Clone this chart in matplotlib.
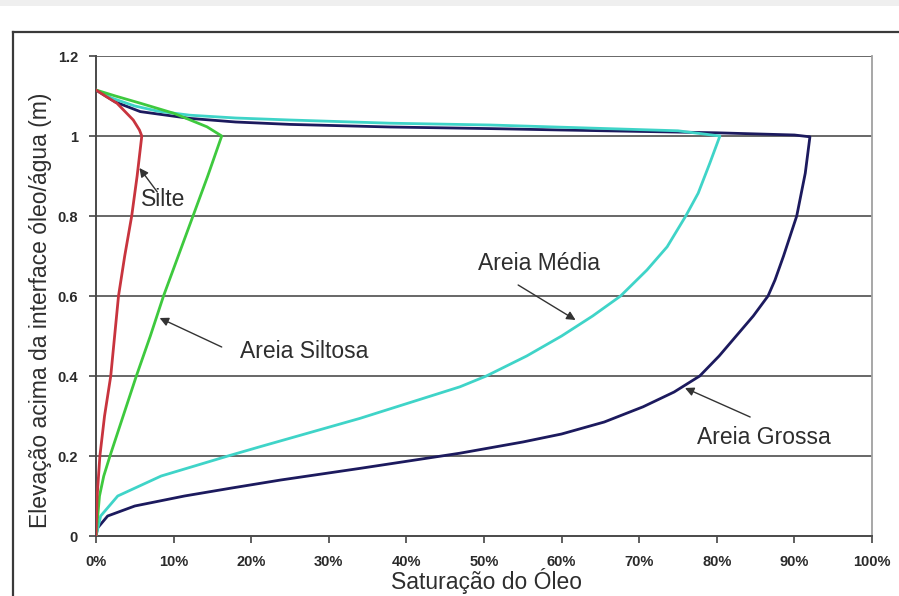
import matplotlib
matplotlib.use("Agg")
import matplotlib.pyplot as plt
from matplotlib.lines import Line2D
from matplotlib.patches import Rectangle
from matplotlib.ticker import FuncFormatter

plt.rcParams['font.family'] = ['Liberation Sans', 'DejaVu Sans']

# Oil saturation (%) vs elevation above the oil/water interface (m)
silte_sat = [0, 0.15, 0.5, 1.1, 1.9, 2.4, 2.9, 3.7, 4.6, 5.3, 5.9, 5.6, 4.8, 2.7, 1.2, 0]
silte_elev = [0, 0.1, 0.2, 0.3, 0.4, 0.5, 0.6, 0.7, 0.8, 0.9, 1.0, 1.015, 1.04, 1.082, 1.1, 1.115]

siltosa_sat = [0, 0.45, 1.0, 1.8, 3.5, 5.2, 7.0, 8.7, 10.6, 12.5, 14.4, 16.2, 14.3, 10.0, 5.7, 2.5, 0]
siltosa_elev = [0, 0.1, 0.15, 0.2, 0.3, 0.4, 0.5, 0.6, 0.7, 0.8, 0.9, 1.0, 1.023, 1.057, 1.082, 1.1, 1.115]

media_sat = [0, 0.6, 2.8, 8.4, 17.0, 21.1, 34.0, 46.9, 50.3, 55.5, 60.0, 64.0, 67.6, 71.0, 73.6, 76.0,
             77.6, 79.1, 80.4, 75.0, 60.0, 50.8, 37.9, 25.0, 18.0, 12.1, 8.0, 5.0, 2.0, 0]
media_elev = [0, 0.05, 0.1, 0.15, 0.2, 0.223, 0.294, 0.373, 0.4, 0.45, 0.5, 0.55, 0.6, 0.665, 0.723, 0.8,
              0.857, 0.932, 1.0, 1.013, 1.022, 1.0275, 1.032, 1.04, 1.045, 1.052, 1.062, 1.075, 1.095, 1.115]

grossa_sat = [0, 0.2, 1.5, 5.0, 11.4, 17.5, 23.8, 34.0, 46.9, 55.0, 60.0, 65.5, 70.5, 74.5, 77.8, 80.3,
              82.5, 84.7, 86.6, 87.5, 88.6, 90.3, 91.4, 92.0, 90.0, 80.0, 71.4, 60.0, 50.8, 37.9, 25.0,
              18.0, 12.1, 5.7, 2.5, 0]
grossa_elev = [0, 0.02, 0.05, 0.075, 0.1, 0.12, 0.14, 0.169, 0.207, 0.235, 0.255, 0.285, 0.323, 0.36, 0.4, 0.45,
               0.5, 0.55, 0.6, 0.64, 0.7, 0.8, 0.907, 0.998, 1.0025, 1.008, 1.011, 1.015, 1.0185, 1.0225, 1.029,
               1.035, 1.044, 1.061, 1.085, 1.115]

x_ticks = [0, 10, 20, 30, 40, 50, 60, 70, 80, 90, 100]
y_ticks = [0, 0.2, 0.4, 0.6, 0.8, 1.0, 1.2]
y_tick_labels = ["0", "0.2", "0.4", "0.6", "0.8", "1", "1.2"]

W, H = 899, 596
fig = plt.figure(figsize=(W / 100, H / 100), dpi=100)
fig.patch.set_facecolor("white")

# faint band along the top edge and the chart-area frame
fig.add_artist(Rectangle((0, 1 - 6 / H), 1, 6 / H, transform=fig.transFigure,
                         facecolor="#efefef", edgecolor="none", zorder=0))
fig.add_artist(Line2D([13 / W, 13 / W], [0, 1 - 31.5 / H], transform=fig.transFigure,
                      color="#3a3a3a", lw=1.6))
fig.add_artist(Line2D([13 / W, 1], [1 - 31.5 / H, 1 - 31.5 / H], transform=fig.transFigure,
                      color="#3a3a3a", lw=1.6))

ax = fig.add_axes([96 / W, 60 / H, 776 / W, 480 / H])
ax.set_xlim(0, 100)
ax.set_ylim(0, 1.2)

for yv in y_ticks[1:]:
    ax.axhline(yv, color="#5c5c5c", lw=1.3, zorder=1)

line_kw = dict(lw=2.0, solid_joinstyle="round", solid_capstyle="round")
ax.plot(grossa_sat, grossa_elev, color="#1c1a5e", zorder=3, **line_kw)
ax.plot(media_sat, media_elev, color="#3fd4c8", zorder=4, **line_kw)
ax.plot(siltosa_sat, siltosa_elev, color="#3ec93e", zorder=5, **line_kw)
ax.plot(silte_sat, silte_elev, color="#c8343e", zorder=6, **line_kw)

ax.set_xticks(x_ticks)
ax.xaxis.set_major_formatter(FuncFormatter(lambda v, p: f"{int(v)}%"))
ax.set_yticks(y_ticks)
ax.set_yticklabels(y_tick_labels)
ax.tick_params(axis="both", direction="out", length=5, width=1.2, color="#444444",
               labelsize=10.5, labelcolor="#2a2a2a")
ax.tick_params(axis="y", pad=8)
ax.tick_params(axis="x", pad=9)
for lab in ax.get_xticklabels() + ax.get_yticklabels():
    lab.set_fontweight("bold")

for side in ("left", "bottom"):
    ax.spines[side].set_color("#4a4a4a")
    ax.spines[side].set_linewidth(1.4)
ax.spines["right"].set_color("#a0a0a0")
ax.spines["right"].set_linewidth(1.3)
ax.spines["top"].set_visible(False)

ax.set_xlabel("Saturação do Óleo", fontsize=16.5, color="#2e2e2e")
ax.set_ylabel("Elevação acima da interface óleo/água (m)", fontsize=16.5, color="#2e2e2e")
ax.xaxis.set_label_coords(0.5026, -0.094)
ax.xaxis.label.set_va("center")
ax.yaxis.set_label_coords(-0.071, 0.47)
ax.yaxis.label.set_va("center")

arrow_kw = dict(arrowstyle="-|>", color="#333333", lw=1.0, mutation_scale=13,
                shrinkA=0, shrinkB=0)
labels = [
    ("Silte", (8.6, 0.84), (7.9, 0.86), (5.6, 0.92), "center"),
    ("Areia Siltosa", (18.6, 0.46), (16.2, 0.4725), (8.2, 0.545), "left"),
    ("Areia Média", (49.2, 0.6825), (54.4, 0.6275), (61.8, 0.54), "left"),
    ("Areia Grossa", (77.4, 0.245), (84.3, 0.2975), (75.9, 0.37), "left"),
]
for text, pos, tail, tip, ha in labels:
    ax.annotate("", xy=tip, xytext=tail, arrowprops=arrow_kw, zorder=7)
    ax.text(pos[0], pos[1], text, fontsize=16.5, color="#2e2e2e", ha=ha, va="center", zorder=8)

fig.savefig("out.png", dpi=100)
